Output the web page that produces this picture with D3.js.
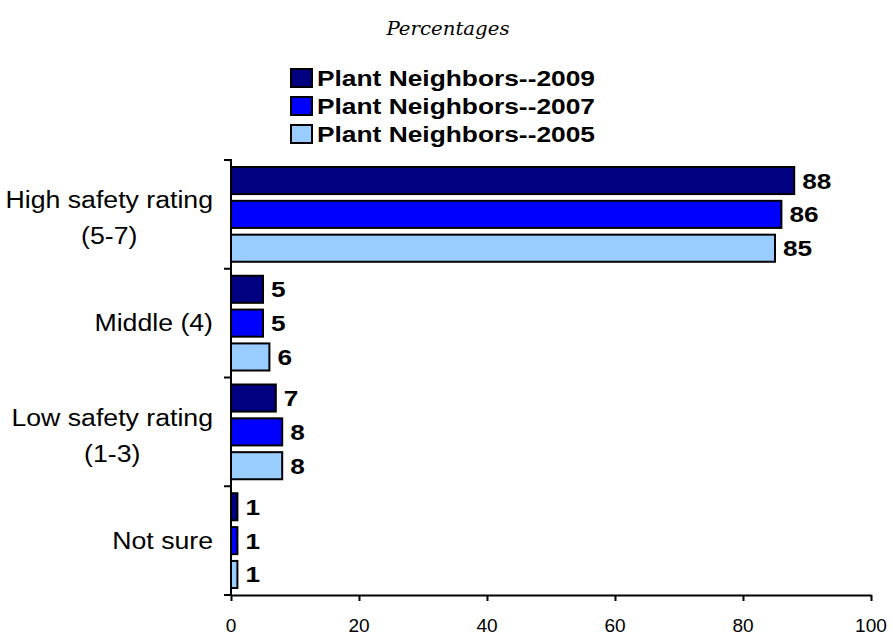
<!DOCTYPE html>
<html><head><meta charset="utf-8">
<script src="https://cdn.jsdelivr.net/npm/d3@7"></script>
<style>body{margin:0;background:#fff}</style>
</head><body>
<svg id="chart" width="891" height="635"></svg>
<script>
const categories = [["High safety rating","(5-7)"],["Middle (4)"],["Low safety rating","(1-3)"],["Not sure"]];
const seriesNames = ["Plant Neighbors--2009","Plant Neighbors--2007","Plant Neighbors--2005"];
const values2009 = [88,5,7,1];
const values2007 = [86,5,8,1];
const values2005 = [85,6,8,1];
const xTicks = [0,20,40,60,80,100];
const colors = ["#000080","#0000FF","#99CCFF"];
const series = [values2009, values2007, values2005];

const SANS = "Liberation Sans, Arial, sans-serif";
const SX = 1.16; // horizontal stretch of the original picture's text

const svg = d3.select("#chart");
const mLeft = 231, mRight = 871, mTop = 160, mBottom = 595;
const x = d3.scaleLinear().domain([0,100]).range([mLeft,mRight]);
const y = d3.scaleBand().domain(d3.range(categories.length)).range([mTop,mBottom]).paddingInner(0).paddingOuter(0);
const inner = d3.scaleBand().domain(d3.range(series.length)).range([7, y.bandwidth()-7]).paddingInner(0.2).paddingOuter(0);

function stretchedText(g, tx, ty, str, anchor, size, weight, sx){
  return g.append("text").attr("transform",`translate(${tx},${ty}) scale(${sx||SX},1)`)
    .attr("text-anchor",anchor).attr("font-family",SANS).attr("font-size",size)
    .attr("font-weight",weight||"normal").attr("fill","#000").text(str);
}

// Title
svg.append("text").attr("transform","translate(448,35) scale(1.04,1)").attr("text-anchor","middle")
  .attr("font-family","'URW Palladio L','Palatino Linotype','DejaVu Serif',serif").attr("font-style","italic")
  .attr("font-size",19).text("Percentages");

// Legend
const lg = svg.append("g");
seriesNames.forEach((s,i)=>{
  const yy = 78 + i*28;
  lg.append("rect").attr("x",291).attr("y",yy-9).attr("width",21).attr("height",18)
    .attr("fill",colors[i]).attr("stroke","#000").attr("stroke-width",2);
  stretchedText(lg, 317, yy+8, s, "start", 21.5, "bold", 1.225);
});

// Bars
series.forEach((vals,si)=>{
  svg.append("g").selectAll("rect").data(vals).join("rect")
    .attr("x",x(0)).attr("y",(d,i)=>y(i)+inner(si))
    .attr("width",d=>x(d)-x(0)).attr("height",inner.bandwidth())
    .attr("fill",colors[si]).attr("stroke","#000").attr("stroke-width",2);
  const lg2 = svg.append("g");
  vals.forEach((d,i)=>{
    stretchedText(lg2, x(d)+8, y(i)+inner(si)+inner.bandwidth()/2+8, d, "start", 21.5, "bold", 1.22);
  });
});

// X axis
const xAxis = svg.append("g").attr("transform",`translate(0,${mBottom})`)
  .call(d3.axisBottom(x).tickValues(xTicks).tickSize(6).tickSizeOuter(0).tickFormat(""));
xAxis.attr("font-size",18).attr("font-family",SANS);
xAxis.select(".domain").attr("stroke","#000").attr("stroke-width",2);
xAxis.selectAll(".tick line").attr("stroke","#000").attr("stroke-width",2);
xAxis.selectAll(".tick text").remove();
const tickG = svg.append("g");
xTicks.forEach(t=>{
  stretchedText(tickG, x(t), mBottom+37, d3.format("d")(t), "middle", 18, "normal", 1.06);
});

// Y axis
const yAxis = svg.append("g");
yAxis.append("line").attr("x1",mLeft).attr("x2",mLeft).attr("y1",mTop-1).attr("y2",mBottom).attr("stroke","#000").attr("stroke-width",2);
d3.range(categories.length+1).forEach(i=>{
  const yy = mTop + i*y.step();
  yAxis.append("line").attr("x1",mLeft-7).attr("x2",mLeft).attr("y1",yy).attr("y2",yy).attr("stroke","#000").attr("stroke-width",2);
});

// Category labels: block right-aligned at 213, lines centred inside the block
const catG = svg.append("g");
categories.forEach((lines,i)=>{
  const bc = y(i)+y.bandwidth()/2;
  const size = 23;
  const texts = lines.map((ln,j)=>{
    const base = lines.length>1 ? bc - 6 + j*36 : bc + 8;
    return stretchedText(catG, 0, base, ln, "middle", size, "normal", SX).attr("data-base",base);
  });
  const maxW = d3.max(texts, t=>t.node().getComputedTextLength()) * SX;
  const cx = 213 - maxW/2;
  texts.forEach(t=>t.attr("transform",`translate(${cx},${t.attr("data-base")}) scale(${SX},1)`).attr("data-base",null));
});
</script>
</body></html>
